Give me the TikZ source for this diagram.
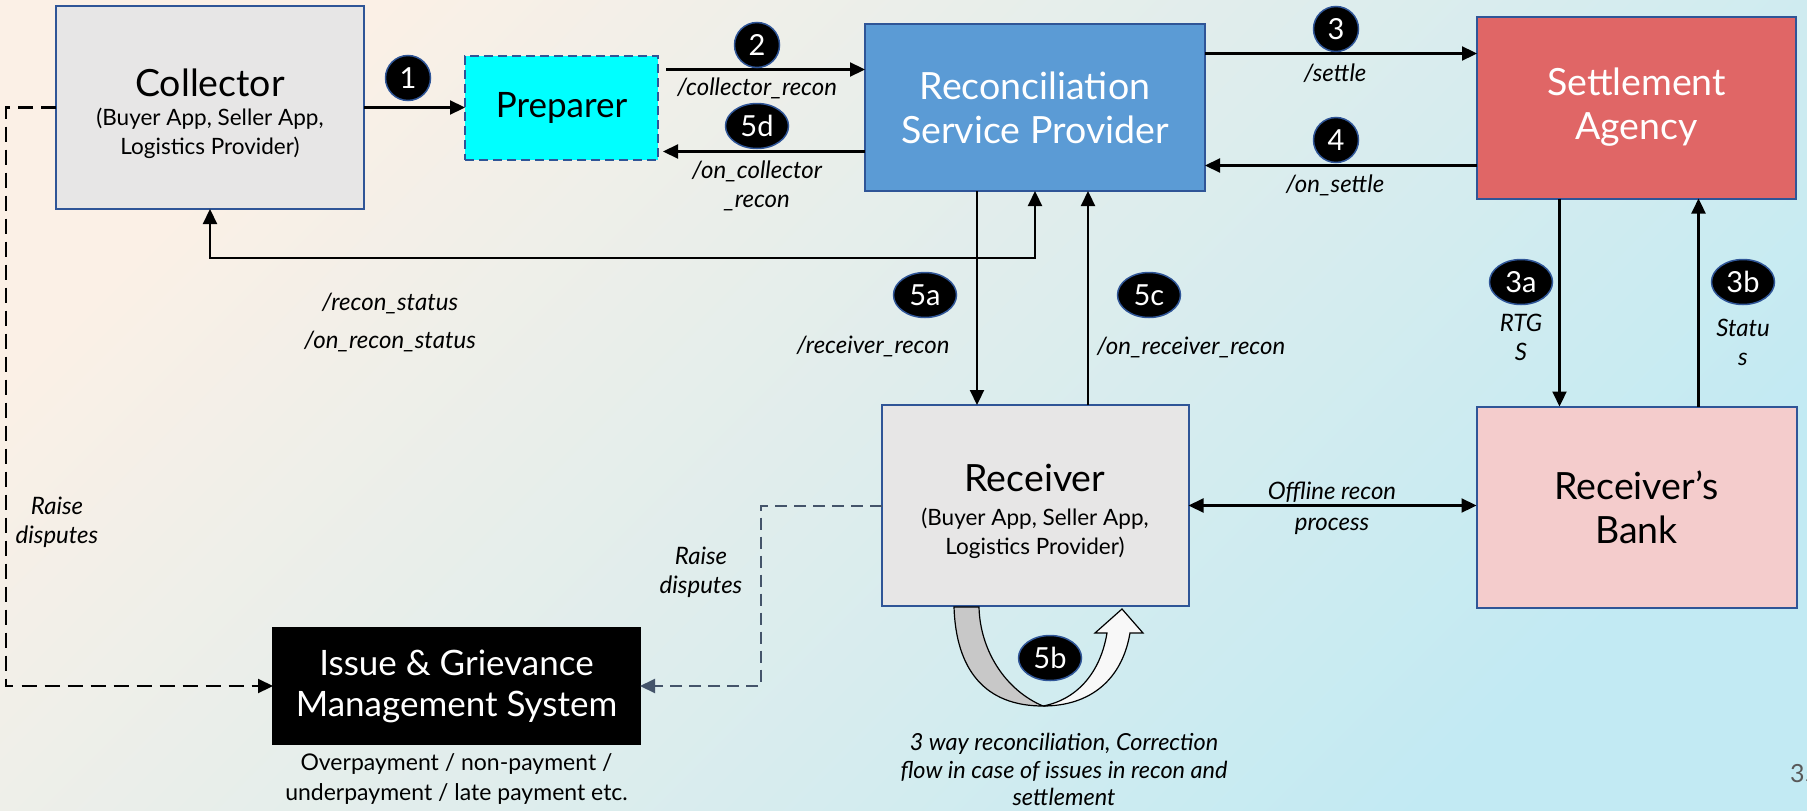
\documentclass[tikz,border=0pt]{standalone}
\usepackage{fontspec}
\setmainfont{Lato}
\usepackage{xcolor}
\usepackage{tikz}
\usetikzlibrary{arrows.meta,positioning,shapes.geometric}

\definecolor{bgA}{RGB}{251,240,230}
\definecolor{bgB}{RGB}{194,234,243}
\definecolor{edgeblue}{RGB}{47,85,151}
\definecolor{boxgray}{RGB}{231,230,230}
\definecolor{prepcyan}{RGB}{0,255,255}
\definecolor{rspblue}{RGB}{91,155,213}
\definecolor{sared}{RGB}{224,102,102}
\definecolor{bankpink}{RGB}{244,204,204}
\definecolor{slate}{RGB}{68,84,106}
\definecolor{pagegray}{RGB}{89,89,89}
\definecolor{uturngray}{RGB}{200,200,200}
\definecolor{uturnwhite}{RGB}{248,248,248}

\newcommand{\titlefnt}{\fontsize{37.5}{44}\selectfont}
\newcommand{\igmsfnt}{\fontsize{35}{41}\selectfont}
\newcommand{\prepfnt}{\fontsize{35}{40}\selectfont}
\newcommand{\subfnt}{\fontsize{22.5}{29}\selectfont}
\newcommand{\lblfnt}{\fontsize{24}{29}\selectfont}
\newcommand{\notefnt}{\fontsize{23}{30}\selectfont}
\newcommand{\badgefnt}{\fontsize{29}{32}\selectfont}
\newcommand{\pagefnt}{\fontsize{25}{30}\selectfont}

\begin{document}
\begin{tikzpicture}[x=1pt, y=1pt, >={Triangle[length=15pt,width=14pt]}, box/.style={draw=edgeblue, line width=2pt, fill=boxgray, align=center, inner sep=0pt, outer sep=0pt}, badge/.style={circle, fill=black, draw=edgeblue, line width=1.5pt, text=white, font=\badgefnt, minimum size=45pt, inner sep=0pt}, oval/.style={badge, ellipse, minimum width=63pt, minimum height=45pt}, lbl/.style={font=\lblfnt\itshape, align=center, inner sep=0pt}, note/.style={font=\notefnt, align=center, inner sep=0pt}, arr/.style={->, line width=2.2pt}, dbl/.style={<->, line width=2.2pt}, dashblk/.style={arr, dash pattern=on 15pt off 8pt}, dashslate/.style={arr, draw=slate, line width=2pt, dash pattern=on 12pt off 7pt}]
\useasboundingbox (0,0) rectangle (1807,-811);
\clip (0,0) rectangle (1807,-811);
\shade[top color=bgA, bottom color=bgB, shading angle=45] (0,0) rectangle (1807,-811);
\node[box, font=\subfnt, minimum width=308pt, minimum height=203pt] (coll) at (210,-107.5) {{\titlefnt\rule{0pt}{40pt}Collector}\\(Buyer App, Seller App,\\Logistics Provider)};
\node[box, fill=prepcyan, dash pattern=on 9pt off 5pt, font=\prepfnt, minimum width=193pt, minimum height=104pt, right=101pt of coll] (prep) {Preparer};
\node[box, fill=rspblue, text=white, font=\titlefnt, minimum width=340pt, minimum height=167pt, right=207pt of prep] (rsp) {Reconciliation\\Service Provider};
\node[box, fill=sared, text=white, font=\titlefnt, minimum width=319pt, minimum height=182pt, right=272pt of rsp] (sa) {Settlement\\Agency};
\node[box, font=\subfnt, minimum width=307pt, minimum height=201pt, below=214pt of rsp] (rec) {{\titlefnt\rule{0pt}{40pt}Receiver}\\[5pt](Buyer App, Seller App,\\Logistics Provider)};
\node[box, fill=bankpink, font=\titlefnt, minimum width=320pt, minimum height=201pt, below=208pt of sa] (bank) {Receiver’s\\Bank};
\node[box, fill=black, draw=black, text=white, font=\igmsfnt, minimum width=367pt, minimum height=116pt] (igms) at (456.5,-686) {Issue \& Grievance\\Management System};
\node[note, below=9pt of igms] (igmsnote) {Overpayment / non-payment /\\underpayment / late payment etc.};
\draw[arr] (coll.east) -- (prep.west);
\draw[arr] ([xshift=8pt,yshift=38pt]prep.east) -- ([yshift=38pt]rsp.west);
\draw[arr] ([yshift=-44pt]rsp.west) -- ([xshift=5pt,yshift=-44pt]prep.east);
\draw[arr] ([yshift=54pt]rsp.east) -- ([yshift=54pt]sa.west);
\draw[arr] ([yshift=-58pt]sa.west) -- ([yshift=-58pt]rsp.east);
\draw[dbl] (coll.south) -- ++(0,-49pt) -| (rsp.south);
\draw[arr] ([xshift=-58pt]rsp.south) -- ([xshift=-58pt]rec.north);
\draw[arr] ([xshift=53pt]rec.north) -- ([xshift=53pt]rsp.south);
\draw[arr] ([xshift=-77pt]sa.south) -- ([xshift=-77pt]bank.north);
\draw[arr] ([xshift=62pt]bank.north) -- ([xshift=62pt]sa.south);
\draw[dbl] (rec.east) -- (rec.east -| bank.west);
\draw[dashblk] (coll.west) -- ++(-50pt,0) |- (igms.west);
\draw[dashslate] (rec.west) -- ++(-121pt,0) |- (igms.east);
\filldraw[fill=uturngray, line width=1.2pt] (954,-607) .. controls (956,-670) and (985,-706) .. (1043,-706) .. controls (1005,-690) and (980,-650) .. (979,-607) -- cycle;
\filldraw[fill=uturnwhite, line width=1.2pt] (1043,-706) .. controls (1090,-706) and (1122,-680) .. (1130,-633) -- (1143,-633) -- (1122,-609) -- (1095,-633) -- (1107,-633) .. controls (1100,-675) and (1075,-700) .. (1043,-706) -- cycle;
\node[lbl] (l2) at (757,-88) {/collector\_recon};
\node[lbl] (l5d) at (757,-185.5) {/on\_collector\\\_recon};
\node[lbl] (l3) at (1335,-73) {/settle};
\node[lbl] (l4) at (1335,-185) {/on\_settle};
\node[lbl] (lrs) at (390,-322) {/recon\_status\\[9pt]/on\_recon\_status};
\node[lbl] (l5a) at (873,-346) {/receiver\_recon};
\node[lbl] (l5c) at (1191,-347) {/on\_receiver\_recon};
\node[lbl] (l3a) at (1521,-337.5) {RTG\\S};
\node[lbl] (l3b) at (1743,-342.5) {Statu\\s};
\node[lbl] (loff) at (1332,-508.5) {Offline recon\\[2pt]process};
\node[lbl] (ld1) at (57,-522.5) {Raise\\disputes};
\node[lbl] (ld2) at (701,-572) {Raise\\disputes};
\node[lbl, font=\fontsize{23.5}{27.5}\selectfont\itshape] (l5b) at (1064,-769.5) {3 way reconciliation, Correction\\flow in case of issues in recon and\\settlement};
\node[font=\pagefnt, text=pagegray, anchor=west, inner sep=0pt] (pg) at (1790,-774) {35};
\node[badge] (b1) at (408,-78) {1};
\node[badge] (b2) at (757,-45) {2};
\node[oval] (b5d) at (757,-126) {5d};
\node[badge] (b3) at (1336,-29) {3};
\node[badge] (b4) at (1336,-140) {4};
\node[oval] (b5a) at (925,-295) {5a};
\node[oval] (b5c) at (1149,-295) {5c};
\node[oval] (b3a) at (1521,-282) {3a};
\node[oval] (b3b) at (1743,-282) {3b};
\node[oval] (b5b) at (1050,-658) {5b};
\end{tikzpicture}
\end{document}
